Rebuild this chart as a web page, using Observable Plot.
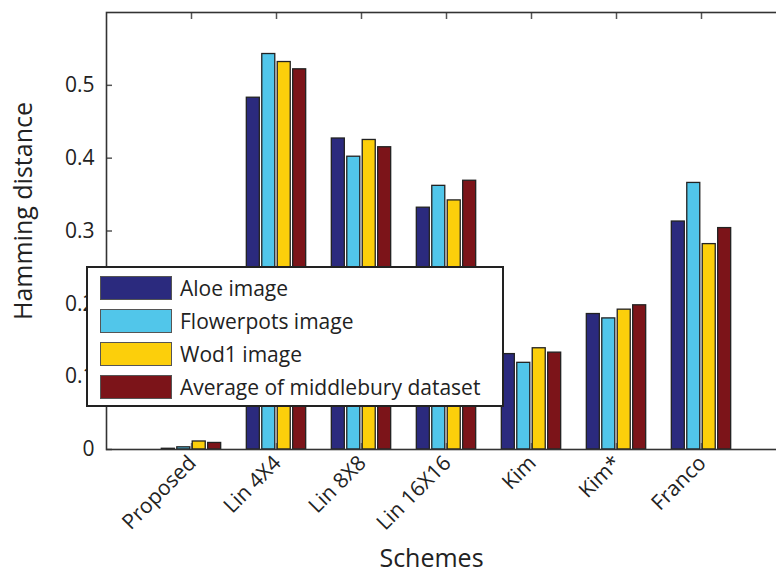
<!DOCTYPE html>
<html><head><meta charset="utf-8">
<script src="https://cdn.jsdelivr.net/npm/d3@7"></script>
<script src="https://cdn.jsdelivr.net/npm/@observablehq/plot@0.6"></script>
<style>
body{margin:0;background:#fff;}
#wrap{position:relative;width:776px;height:574px;overflow:hidden;font-family:"Open Sans",sans-serif;color:#222;}
#legend{position:absolute;left:86px;top:266px;width:418px;height:141px;border:2px solid #222;background:#fff;box-sizing:border-box;}
.item{position:absolute;left:12px;height:24px;display:flex;align-items:center;}
.sw{width:72px;height:24px;box-sizing:border-box;border:1.5px solid #555;margin-right:8px;}
.lab{font-size:21px;line-height:24px;white-space:nowrap;}
</style></head>
<body><div id="wrap"><div id="chart"></div><div id="legend"></div></div>
<script>
const schemes = ["Proposed", "Lin 4X4", "Lin 8X8", "Lin 16X16", "Kim", "Kim*", "Franco"];
const series = ["Aloe image", "Flowerpots image", "Wod1 image", "Average of middlebury dataset"];
const aloe       = [0.001, 0.483, 0.427, 0.332, 0.131, 0.186, 0.313];
const flowerpots = [0.003, 0.543, 0.402, 0.362, 0.119, 0.180, 0.366];
const wod1       = [0.011, 0.532, 0.425, 0.342, 0.139, 0.192, 0.282];
const average    = [0.009, 0.522, 0.415, 0.369, 0.133, 0.198, 0.304];
const colors = ["#2b2a7e", "#51c6ea", "#fccf0b", "#7c1419"];
const yTicks = [0, 0.1, 0.2, 0.3, 0.4, 0.5];
const xTicks = schemes.map((s, i) => i + 1);

const valuesBySeries = [aloe, flowerpots, wod1, average];
const slot = 0.1818, barW = 0.153;
const rows = [];
schemes.forEach((s, i) => {
  series.forEach((name, j) => {
    const c = i + 1 + (j - 1.5) * slot;
    rows.push({scheme: s, series: name, value: valuesBySeries[j][i], x1: c - barW / 2, x2: c + barW / 2});
  });
});

const plot = Plot.plot({
  width: 776, height: 574,
  marginLeft: 106, marginRight: -10, marginTop: 12, marginBottom: 125,
  x: {domain: [0, 8]},
  y: {domain: [0, 0.6]},
  color: {domain: series, range: colors},
  style: {fontFamily: "'Open Sans', sans-serif", fontSize: "21px", color: "#222", background: "#fff"},
  marks: [
    Plot.axisX({anchor: "top", ticks: xTicks, tickSize: -6, text: null, label: null, stroke: "#555", strokeWidth: 1.5}),
    Plot.axisX({anchor: "bottom", ticks: xTicks, tickSize: -6, text: null, label: null, stroke: "#888", strokeWidth: 1.5}),
    Plot.axisY({ticks: yTicks, tickSize: -6, text: null, label: null, stroke: "#555", strokeWidth: 1.5}),
    Plot.rect(rows, {x1: "x1", x2: "x2", y1: 0, y2: "value", fill: "series", stroke: "#222", strokeWidth: 1.3}),
    Plot.frame({stroke: "#333", strokeWidth: 1.6}),
    Plot.axisY({ticks: yTicks, tickSize: 0, tickPadding: 12, tickFormat: d3.format("~g"), label: null, fontSize: 21}),
    Plot.axisX({ticks: xTicks, tickSize: 0, tickPadding: 10, tickRotate: -45, dx: 1, tickFormat: d => schemes[d - 1], label: null, fontSize: 21}),
    Plot.text(["Hamming distance"], {text: d => d, frameAnchor: "left", textAnchor: "middle", lineAnchor: "middle", rotate: -90, dx: -83, dy: -20, fontSize: 25}),
    Plot.text(["Schemes"], {text: d => d, frameAnchor: "bottom", textAnchor: "middle", lineAnchor: "middle", dx: -15, dy: 109, fontSize: 25})
  ]
});
document.getElementById("chart").appendChild(plot);

const legend = document.getElementById("legend");
series.forEach((name, j) => {
  const item = document.createElement("div");
  item.className = "item";
  item.style.top = (8 + j * 33) + "px";
  const sw = document.createElement("div");
  sw.className = "sw";
  sw.style.background = colors[j];
  const lab = document.createElement("span");
  lab.className = "lab";
  lab.textContent = name;
  item.appendChild(sw);
  item.appendChild(lab);
  legend.appendChild(item);
});
</script></body></html>
